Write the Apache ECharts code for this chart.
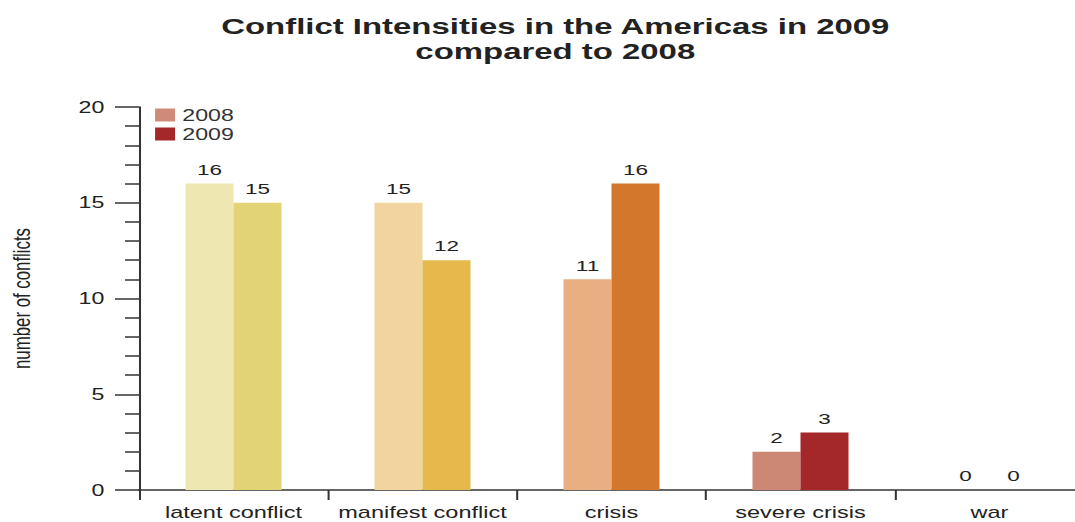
<!DOCTYPE html>
<html><head><meta charset="utf-8">
<script src="https://cdn.jsdelivr.net/npm/echarts@6/dist/echarts.min.js"></script>
<style>html,body{margin:0;padding:0;background:#fff;overflow:hidden;width:1075px;height:522px}
#wrap{position:absolute;left:0;top:0;width:1075px;height:522px;overflow:hidden}
#c{position:absolute;left:0;top:0;width:741px;height:522px;transform-origin:0 0}
#c svg{overflow:visible}</style>
</head><body><div id="wrap"><div id="c"></div></div>
<script>
var categories = ['latent conflict', 'manifest conflict', 'crisis', 'severe crisis', 'war'];
var values2008 = [16, 15, 11, 2, 0];
var values2009 = [15, 12, 16, 3, 0];
var colors2008 = ['#efe7b1', '#f1d49e', '#e9af83', '#cd8775', '#cd8775'];
var colors2009 = ['#e2d474', '#e6b94c', '#d2772b', '#a4272a', '#a4272a'];
var yTicks = [0, 5, 10, 15, 20];

// The reference is horizontally stretched; draw narrower and stretch the whole chart.
var W = 741;
var S = 1075 / W;
function h(x) { return x / S; }   // screen x / length -> drawing units
var dom = document.getElementById('c');
dom.style.transform = 'scaleX(' + S + ')';

var font = 'Liberation Sans, Arial, sans-serif';
function items(vals, cols) {
  return vals.map(function (v, i) { return { value: v, itemStyle: { color: cols[i] } }; });
}
var chart = echarts.init(dom, null, { renderer: 'svg', width: W, height: 522 });
chart.setOption({
  animation: false,
  title: {
    text: 'Conflict Intensities in the Americas in 2009\ncompared to 2008',
    left: h(555) - 4.8, top: 8, textAlign: 'center',
    textStyle: { fontFamily: font, fontSize: 22.7, fontWeight: 'bold', color: '#222', lineHeight: 25 }
  },
  legend: {
    data: ['2008', '2009'], orient: 'vertical', left: 101.9, top: 102,
    itemWidth: h(20), itemHeight: 13, itemGap: 3, icon: 'rect',
    textStyle: { fontFamily: font, fontSize: 16, color: '#333' }
  },
  grid: { left: h(139), top: 107, width: h(945), bottom: 32, containLabel: false, outerBoundsMode: 'none' },
  xAxis: {
    type: 'category', data: categories,
    axisLine: { lineStyle: { color: '#333', width: 1.5 } },
    axisTick: { show: true, interval: 0, length: 10, lineStyle: { color: '#333', width: 1.4 } },
    axisLabel: { interval: 0, margin: 14, fontFamily: font, fontSize: 16.2, lineHeight: 16, color: '#222' }
  },
  yAxis: {
    type: 'value', min: yTicks[0], max: yTicks[yTicks.length - 1], interval: 5,
    name: 'number of conflicts', nameLocation: 'middle', nameRotate: 90, nameGap: 73,
    nameTextStyle: { fontFamily: font, fontSize: 16.8, color: '#222' },
    axisLine: { show: true, lineStyle: { color: '#333', width: 1.4 } },
    axisTick: { show: true, length: h(24), lineStyle: { color: '#333', width: 1.5 } },
    minorTick: { show: true, splitNumber: 5, length: h(14), lineStyle: { color: '#333', width: 1.5 } },
    splitLine: { show: false },
    axisLabel: { margin: 23.9, fontFamily: font, fontSize: 16, color: '#222' }
  },
  series: [
    { name: '2008', type: 'bar', data: items(values2008, colors2008), barWidth: h(48), barGap: '0%',
      itemStyle: { color: '#d08a7a' },
      label: { show: true, position: 'top', distance: 6, fontFamily: font, fontSize: 15.5, color: '#222' } },
    { name: '2009', type: 'bar', data: items(values2009, colors2009), barWidth: h(48), barGap: '0%',
      itemStyle: { color: '#a4272a' },
      label: { show: true, position: 'top', distance: 6, fontFamily: font, fontSize: 15.5, color: '#222' } }
  ]
});
</script></body></html>
